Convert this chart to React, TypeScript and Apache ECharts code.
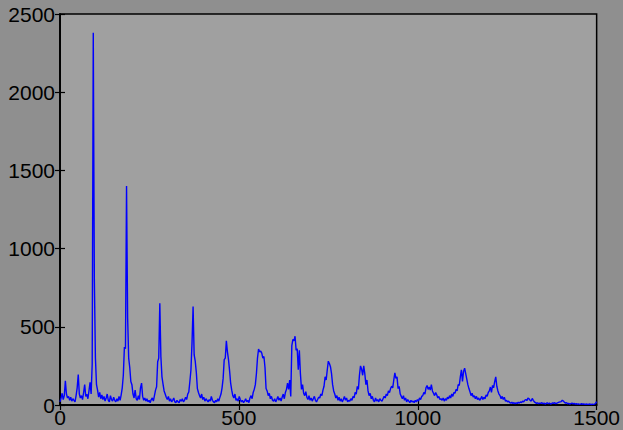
import React, { useEffect, useRef } from "react";
import * as echarts from "echarts";

const xStep = 3;
const xTicks = [0, 500, 1000, 1500];
const yTicks = [0, 500, 1000, 1500, 2000, 2500];

// amplitude spectrum, one value every 3 units from 0 to 1500
const amplitude: number[] = [
  20, 45, 75, 35, 60, 155, 70, 45, 55, 30,
  50, 25, 40, 30, 20, 60, 110, 195, 70, 45,
  60, 35, 80, 130, 55, 70, 40, 90, 145, 70,
  260, 2380, 800, 300, 130, 95, 50, 80, 40, 65,
  35, 55, 25, 45, 70, 30, 20, 60, 35, 25,
  50, 30, 20, 40, 25, 55, 30, 65, 110, 190,
  370, 360, 1400, 560, 300, 240, 150, 130, 70, 45,
  95, 40, 30, 60, 35, 110, 140, 55, 30, 45,
  25, 40, 20, 30, 15, 35, 45, 25, 60, 95,
  117, 277, 300, 650, 309, 180, 134, 90, 70, 50,
  35, 55, 25, 40, 20, 30, 45, 20, 15, 30,
  20, 15, 35, 25, 40, 20, 30, 50, 35, 70,
  83, 150, 224, 396, 630, 320, 280, 210, 105, 80,
  60, 45, 70, 35, 50, 25, 40, 30, 20, 35,
  25, 55, 30, 20, 15, 30, 20, 40, 25, 50,
  70, 110, 170, 290, 300, 410, 340, 290, 220, 140,
  95, 60, 45, 70, 30, 40, 25, 55, 35, 20,
  30, 15, 25, 40, 20, 30, 15, 45, 60, 40,
  80, 100, 130, 200, 300, 358, 340, 345, 332, 300,
  310, 240, 105, 90, 60, 75, 40, 55, 30, 25,
  40, 20, 35, 55, 30, 45, 25, 50, 70, 40,
  80, 100, 140, 100, 160, 55, 380, 420, 410, 440,
  350, 360, 225, 350, 200, 100, 130, 75, 60, 85,
  50, 35, 60, 30, 45, 25, 40, 55, 30, 20,
  35, 50, 45, 70, 60, 95, 120, 180, 160, 224,
  280, 265, 245, 200, 130, 90, 70, 45, 60, 30,
  50, 25, 40, 20, 35, 55, 30, 45, 20, 30,
  25, 40, 30, 55, 45, 80, 70, 120, 100, 190,
  250, 230, 190, 250, 200, 130, 160, 90, 60, 75,
  40, 55, 30, 20, 45, 25, 35, 20, 40, 30,
  25, 40, 55, 45, 70, 60, 90, 80, 105, 120,
  110, 160, 205, 170, 180, 105, 120, 70, 55, 40,
  60, 30, 45, 20, 35, 25, 15, 30, 20, 25,
  15, 30, 20, 35, 25, 45, 35, 55, 60, 80,
  70, 110, 125, 100, 115, 95, 130, 90, 75, 60,
  80, 65, 45, 55, 35, 40, 30, 45, 25, 40,
  30, 50, 40, 60, 45, 70, 55, 80, 75, 100,
  90, 130, 125, 180, 225, 150, 215, 235, 200, 165,
  130, 105, 85, 60, 75, 50, 60, 40, 55, 35,
  45, 30, 40, 55, 35, 50, 40, 65, 55, 80,
  90, 115, 80, 125, 110, 150, 180, 120, 90, 70,
  60, 40, 55, 35, 50, 25, 30, 20, 25, 15,
  12, 18, 10, 15, 8, 14, 10, 18, 12, 20,
  15, 25, 20, 30, 35, 28, 45, 40, 30, 25,
  42, 30, 20, 15, 10, 14, 8, 12, 10, 15,
  8, 12, 6, 10, 14, 8, 12, 6, 9, 14,
  10, 15, 8, 12, 15, 18, 20, 22, 30, 25,
  18, 12, 15, 8, 10, 6, 9, 12, 7, 10,
  6, 8, 5, 7, 4, 6, 8, 5, 7, 4,
  6, 5, 4, 6, 5, 3, 5, 4, 6, 10,
  22,
];

const FONT = "'Liberation Sans', Arial, sans-serif";
const plain = (v: number) => String(v);

export default function App() {
  const ref = useRef<HTMLDivElement>(null);
  useEffect(() => {
    if (!ref.current) return;
    const chart = echarts.init(ref.current, null, { renderer: "svg" });
    const data = amplitude.map((v, i) => [i * xStep, v]);
    const axisCommon = {
      type: "value" as const,
      axisLine: { show: true, lineStyle: { color: "#000", width: 1.5 } },
      axisTick: { show: true, inside: true, length: 5, lineStyle: { color: "#000", width: 1.2 } },
      splitLine: { show: false },
    };
    chart.setOption({
      animation: false,
      backgroundColor: "#8f8f8f",
      grid: {
        left: 60,
        right: 26,
        top: 14,
        bottom: 25,
        show: true,
        backgroundColor: "#a0a0a0",
        borderColor: "#000",
        borderWidth: 1.5,
      },
      xAxis: [
        {
          ...axisCommon,
          position: "bottom",
          min: xTicks[0],
          max: xTicks[xTicks.length - 1],
          interval: 500,
          axisLabel: {
            color: "#000",
            fontSize: 21,
            fontFamily: FONT,
            margin: 2,
            formatter: plain,
            showMinLabel: true,
            showMaxLabel: true,
          },
        },
        {
          ...axisCommon,
          position: "top",
          min: xTicks[0],
          max: xTicks[xTicks.length - 1],
          interval: 500,
          axisLabel: { show: false },
        },
      ],
      yAxis: [
        {
          ...axisCommon,
          position: "left",
          min: yTicks[0],
          max: yTicks[yTicks.length - 1],
          interval: 500,
          axisLabel: {
            color: "#000",
            fontSize: 21,
            fontFamily: FONT,
            margin: 5,
            formatter: plain,
            showMinLabel: true,
            showMaxLabel: true,
          },
        },
        {
          ...axisCommon,
          position: "right",
          min: yTicks[0],
          max: yTicks[yTicks.length - 1],
          interval: 500,
          axisLabel: { show: false },
        },
      ],
      series: [
        {
          type: "line",
          data,
          xAxisIndex: 0,
          yAxisIndex: 0,
          showSymbol: false,
          symbol: "none",
          lineStyle: { color: "#0000ff", width: 1.4 },
          silent: true,
        },
      ],
    });
    return () => chart.dispose();
  }, []);
  return (
    <div
      ref={ref}
      style={{ width: 623, height: 430, position: "absolute", left: 0, top: 0 }}
    />
  );
}
